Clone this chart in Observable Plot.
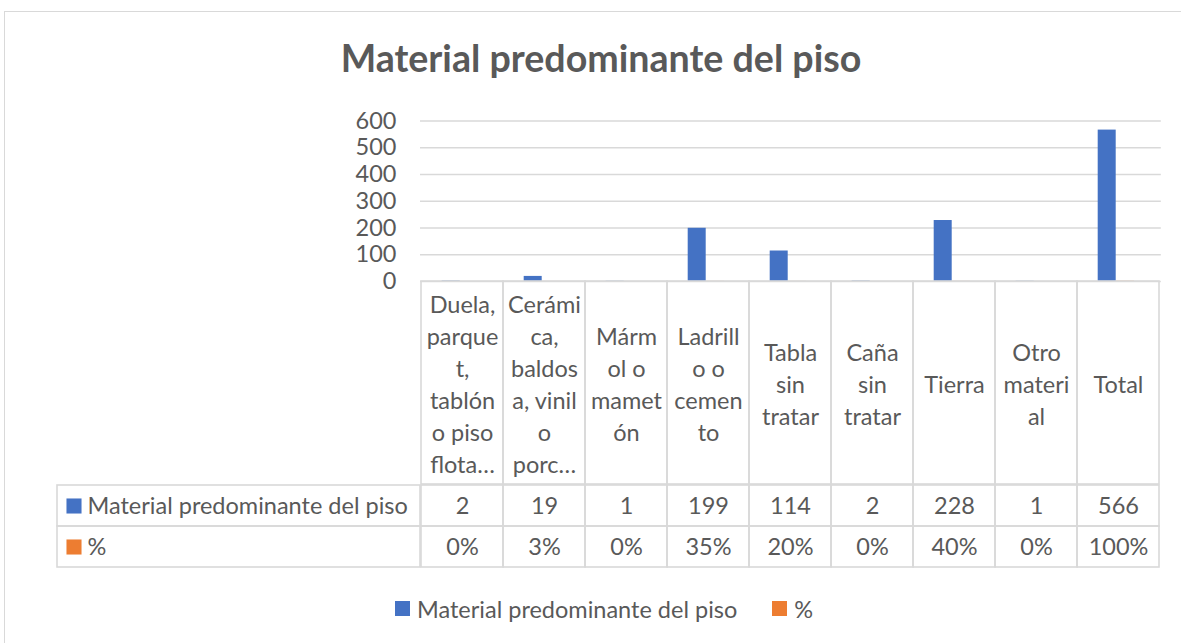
<!DOCTYPE html>
<html><head><meta charset="utf-8">
<script src="https://cdn.jsdelivr.net/npm/d3@7"></script>
<script src="https://cdn.jsdelivr.net/npm/@observablehq/plot@0.6"></script>
<style>
body{margin:0;background:#fff;font-family:Lato,"Noto Sans",sans-serif;}
#wrap{position:relative;width:1181px;height:643px;overflow:hidden;background:#fff}
#frame{position:absolute;left:4px;top:11px;width:1200px;height:700px;border:1.5px solid #d9d9d9;box-sizing:border-box}
#title{position:absolute;left:0;width:1202px;top:39px;line-height:38px;text-align:center;font-weight:bold;font-size:37.6px;color:#595959}
.abs{position:absolute}
#legend svg{margin-right:7px !important}
#legend span{margin-right:35px !important}
</style></head><body>
<div id="wrap"><div id="frame"></div><div id="title">Material predominante del piso</div></div>
<script>
const categories = ["Duela, parquet, tablón o piso flotante","Cerámica, baldosa, vinil o porcelanato","Mármol o marmetón","Ladrillo o cemento","Tabla sin tratar","Caña sin tratar","Tierra","Otro material","Total"];
const headerLabels = ["Duela,\nparque\nt,\ntablón\no piso\nflota…","Cerámi\nca,\nbaldos\na, vinil\no\nporc…","Márm\nol o\nmamet\nón","Ladrill\no o\ncemen\nto","Tabla\nsin\ntratar","Caña\nsin\ntratar","Tierra","Otro\nmateri\nal","Total"];
const counts = [2,19,1,199,114,2,228,1,566];
const shares = [0.0035,0.034,0.0018,0.35,0.20,0.0035,0.40,0.0018,1.00];
const seriesNames = ["Material predominante del piso","%"];
const seriesColors = ["#4472C4","#ED7D31"];
const yTicks = [0,100,200,300,400,500,600];

const FONT = 'Lato, "Noto Sans", sans-serif';
const FS = 23.5;
const TXT = "#595959";
const BORDER = "#d9d9d9";
const wrap = document.getElementById("wrap");
function place(el, left, top){ el.classList.add("abs"); el.style.left = left+"px"; el.style.top = top+"px"; wrap.appendChild(el); }

const rows = categories.map((c,i)=>({category:c, label:headerLabels[i], count:counts[i], share:shares[i]}));
const pct = d3.format(".0%");
const table = rows.flatMap(d=>[
  {category:d.category, series:seriesNames[0], text:String(d.count)},
  {category:d.category, series:seriesNames[1], text:pct(d.share)}
]);

const xScale = {domain:categories, padding:0, axis:null};
const commonStyle = {fontFamily:FONT, fontSize:FS+"px", color:TXT, background:"transparent", overflow:"visible"};

// Chart
const chart = Plot.plot({
  width:1181, height:190, marginTop:20.5, marginBottom:9, marginLeft:420, marginRight:20.2,
  x:xScale,
  y:{domain:[0,600], axis:null},
  style:commonStyle,
  marks:[
    Plot.gridY(yTicks, {stroke:BORDER, strokeOpacity:1, strokeWidth:1.6}),
    Plot.barY(rows, {x:"category", y:"count", fill:seriesColors[0], insetLeft:20.7, insetRight:43.3}),
    Plot.barY(rows, {x:"category", y:"share", fill:seriesColors[1], insetLeft:39, insetRight:25}),
    Plot.axisY(yTicks, {tickSize:0, tickPadding:24, fill:TXT, fontSize:FS, label:null})
  ]
});
place(chart, 0, 100);

// Header row (category labels)
const header = Plot.plot({
  width:1181, height:203, marginTop:0, marginBottom:0, marginLeft:420, marginRight:20.2,
  x:xScale,
  style:commonStyle,
  marks:[
    Plot.cell(rows, {x:"category", fill:"none", stroke:BORDER, strokeWidth:1.6}),
    Plot.text(rows, {x:"category", text:"label", frameAnchor:"middle", lineHeight:1.36, fontSize:FS, fill:TXT})
  ]
});
place(header, 0, 281);

// Data rows
const body = Plot.plot({
  width:1181, height:83, marginTop:0, marginBottom:0, marginLeft:420, marginRight:20.2,
  x:xScale,
  y:{domain:seriesNames, padding:0, axis:null},
  style:commonStyle,
  marks:[
    Plot.cell(table, {x:"category", y:"series", fill:"none", stroke:BORDER, strokeWidth:1.6}),
    Plot.text(table, {x:"category", y:"series", text:"text", fontSize:FS, fill:TXT})
  ]
});
place(body, 0, 484);

// Row headers (legend keys of the data table)
const rowHead = Plot.plot({
  width:363, height:83, margin:0,
  y:{domain:seriesNames, padding:0, axis:null},
  color:{domain:seriesNames, range:seriesColors},
  style:commonStyle,
  marks:[
    Plot.cell(seriesNames, {y:d=>d, fill:"none", stroke:BORDER, strokeWidth:1.6}),
    Plot.dot(seriesNames, {y:d=>d, frameAnchor:"left", dx:16.5, symbol:"square", r:8.5, fill:d=>d, stroke:null}),
    Plot.text(seriesNames, {y:d=>d, text:d=>d, frameAnchor:"left", textAnchor:"start", dx:30, fontSize:FS, fill:TXT})
  ]
});
place(rowHead, 57, 484);

// Bottom legend
const legend = Plot.legend({
  color:{domain:seriesNames, range:seriesColors},
  legend:"swatches", swatchSize:15,
  style:{fontFamily:FONT, fontSize:FS+"px", color:TXT, background:"transparent"}
});
const lg = document.createElement("div");
lg.id = "legend";
lg.appendChild(legend);
place(lg, 395, 592);
</script>
</body></html>
